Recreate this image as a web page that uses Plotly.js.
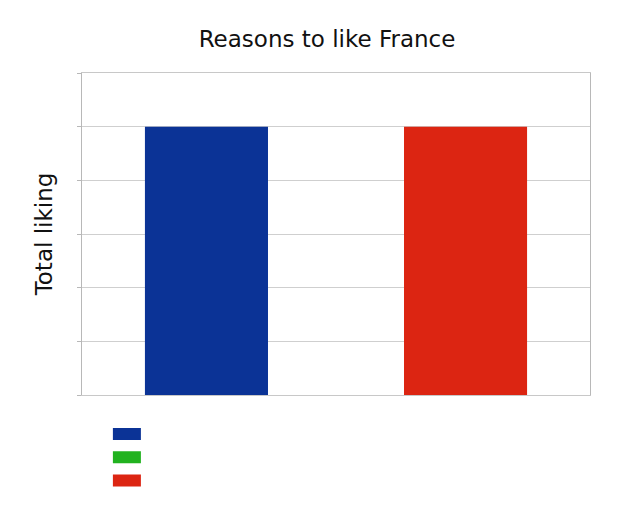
<!DOCTYPE html>
<html><head><meta charset="utf-8">
<script src="https://cdn.plot.ly/plotly-3.0.1.min.js"></script>
<style>html,body{margin:0;padding:0;background:#fff;}</style>
</head><body>
<div id="chart" style="width:640px;height:522px;"></div>
<script>
const categories = [""];
const seriesNames = [" ", " ", " "];
const blueValues = [5];
const greenValues = [0];
const redValues = [5];
const colors = ["#0b3396", "#21b21f", "#dc2512"];

const traces = [blueValues, greenValues, redValues].map((vals, i) => ({
  type: "bar", x: categories, y: vals, name: seriesNames[i],
  marker: {color: colors[i]}, hoverinfo: "none"
}));

const layout = {
  width: 640, height: 522,
  margin: {l: 82, r: 50, t: 73, b: 127},
  paper_bgcolor: "#fff", plot_bgcolor: "#fff",
  font: {family: "DejaVu Sans", color: "#111"},
  title: {text: "Reasons to like France", font: {size: 23, family: "DejaVu Sans", color: "#111"}, x: 0.511, xanchor: "center", y: 0.925, yanchor: "middle"},
  barmode: "group", bargap: 0.235, bargroupgap: 0.05,
  xaxis: {showticklabels: false, showgrid: false, zeroline: false, showline: true, linecolor: "#c8c8c8", mirror: true, ticks: "", fixedrange: true},
  yaxis: {range: [0, 6], dtick: 1, showticklabels: false, showgrid: true, gridcolor: "#cfcfcf", zeroline: false,
          showline: true, linecolor: "#b8b8b8", mirror: true, ticks: "outside", ticklen: 4, tickcolor: "#b8b8b8",
          title: {text: "Total liking", font: {size: 23, family: "DejaVu Sans", color: "#111"}, standoff: 17}},
  showlegend: true,
  legend: {x: 0.049, xanchor: "left", y: -0.07, yanchor: "top", font: {size: 15.5}, tracegroupgap: 0, traceorder: "normal", bgcolor: "rgba(0,0,0,0)"}
};
Plotly.newPlot("chart", traces, layout, {staticPlot: true, displayModeBar: false}).then(gd => {
  gd.querySelectorAll(".legend .legendpoints path").forEach(p => {
    p.setAttribute("d", "M14,6H-14V-6H14Z");
  });
});
</script>
</body></html>
